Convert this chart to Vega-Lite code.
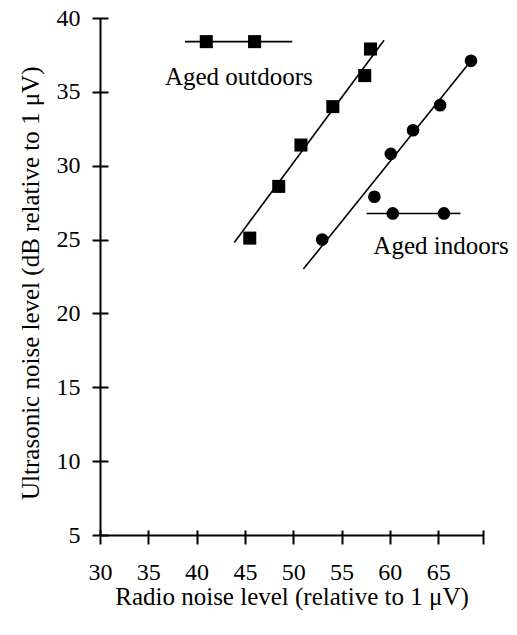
{
  "$schema": "https://vega.github.io/schema/vega-lite/v6.json",
  "width": 382.6,
  "height": 517,
  "autosize": "none",
  "padding": {"left": 100, "top": 18, "right": 34.4, "bottom": 100},
  "config": {
    "view": {"stroke": null},
    "font": "Liberation Serif",
    "axis": {
      "domain": false, "tickColor": "black", "tickWidth": 2,
      "labelColor": "black", "titleColor": "black", "labelFont": "Liberation Serif",
      "titleFont": "Liberation Serif", "labelFontSize": 24, "titleFontSize": 25,
      "titleFontWeight": "normal", "labelFlush": false, "labelOverlap": false,
      "grid": true, "gridColor": "black", "gridWidth": 2
    }
  },
  "datasets": {
    "points": [
      {"series": "Aged outdoors", "x": 45.5, "y": 25.1},
      {"series": "Aged outdoors", "x": 48.5, "y": 28.6},
      {"series": "Aged outdoors", "x": 50.8, "y": 31.4},
      {"series": "Aged outdoors", "x": 54.1, "y": 34.0},
      {"series": "Aged outdoors", "x": 57.4, "y": 36.1},
      {"series": "Aged outdoors", "x": 58.0, "y": 37.9},
      {"series": "Aged indoors", "x": 53.0, "y": 25.0},
      {"series": "Aged indoors", "x": 58.4, "y": 27.9},
      {"series": "Aged indoors", "x": 60.1, "y": 30.8},
      {"series": "Aged indoors", "x": 62.4, "y": 32.4},
      {"series": "Aged indoors", "x": 65.2, "y": 34.1},
      {"series": "Aged indoors", "x": 68.4, "y": 37.1}
    ],
    "fits": [
      {"series": "Aged outdoors", "x": 43.9, "y": 24.8},
      {"series": "Aged outdoors", "x": 59.4, "y": 38.5},
      {"series": "Aged indoors", "x": 51.05, "y": 23.0},
      {"series": "Aged indoors", "x": 68.4, "y": 37.1}
    ],
    "keylines": [
      {"seg": "out", "x": 38.8, "y": 38.4},
      {"seg": "out", "x": 49.9, "y": 38.4},
      {"seg": "in", "x": 57.6, "y": 26.77},
      {"seg": "in", "x": 65.6, "y": 26.77},
      {"seg": "indash", "x": 66.0, "y": 26.77},
      {"seg": "indash", "x": 67.3, "y": 26.77}
    ],
    "keypoints": [
      {"series": "Aged outdoors", "x": 41.0, "y": 38.4},
      {"series": "Aged outdoors", "x": 46.0, "y": 38.4},
      {"series": "Aged indoors", "x": 60.3, "y": 26.77},
      {"series": "Aged indoors", "x": 65.6, "y": 26.77}
    ],
    "labels": [
      {"label": "Aged outdoors", "x": 44.37, "y": 35.45},
      {"label": "Aged indoors", "x": 65.3, "y": 24.0}
    ]
  },
  "encoding": {
    "x": {"field": "x", "type": "quantitative",
      "scale": {"domain": [30, 69.6], "nice": false, "zero": false},
      "axis": {"values": [30, 35, 40, 45, 50, 55, 60, 65, 69.6],
        "labelExpr": "datum.value > 66 ? '' : datum.label",
        "tickSize": 14, "offset": -5, "labelPadding": 16,
        "gridOpacity": {"condition": {"test": "datum.value == 30", "value": 1}, "value": 0},
        "title": "Radio noise level (relative to 1 μV)",
        "titleX": 191.5, "titleY": 74, "titleBaseline": "alphabetic", "titleAlign": "center"}},
    "y": {"field": "y", "type": "quantitative",
      "scale": {"domain": [5, 40], "nice": false, "zero": false},
      "axis": {"values": [5, 10, 15, 20, 25, 30, 35, 40], "tickSize": 16, "offset": -8, "labelPadding": 12,
        "gridOpacity": {"condition": {"test": "datum.value == 5", "value": 1}, "value": 0},
        "title": "Ultrasonic noise level (dB relative to 1 μV)",
        "titleX": -70, "titleY": 48, "titleAngle": 270, "titleBaseline": "alphabetic", "titleAlign": "right"}}
  },
  "layer": [
    {
      "data": {"name": "fits"},
      "mark": {"type": "line", "color": "black", "strokeWidth": 1.6},
      "encoding": {"detail": {"field": "series"}}
    },
    {
      "data": {"name": "points"},
      "mark": {"type": "point", "filled": true, "color": "black", "opacity": 1},
      "encoding": {
        "shape": {"field": "series", "type": "nominal",
          "scale": {"domain": ["Aged outdoors", "Aged indoors"], "range": ["square", "circle"]}, "legend": null},
        "size": {"field": "series", "type": "nominal",
          "scale": {"domain": ["Aged outdoors", "Aged indoors"], "range": [170, 160]}, "legend": null}
      }
    },
    {
      "data": {"name": "keylines"},
      "mark": {"type": "line", "color": "black", "strokeWidth": 1.6},
      "encoding": {"detail": {"field": "seg"}}
    },
    {
      "data": {"name": "keypoints"},
      "mark": {"type": "point", "filled": true, "color": "black", "opacity": 1},
      "encoding": {
        "shape": {"field": "series", "type": "nominal",
          "scale": {"domain": ["Aged outdoors", "Aged indoors"], "range": ["square", "circle"]}, "legend": null},
        "size": {"field": "series", "type": "nominal",
          "scale": {"domain": ["Aged outdoors", "Aged indoors"], "range": [170, 160]}, "legend": null}
      }
    },
    {
      "data": {"name": "labels"},
      "mark": {"type": "text", "font": "Liberation Serif", "fontSize": 25, "color": "black", "align": "center", "baseline": "alphabetic"},
      "encoding": {"text": {"field": "label"}}
    }
  ]
}
